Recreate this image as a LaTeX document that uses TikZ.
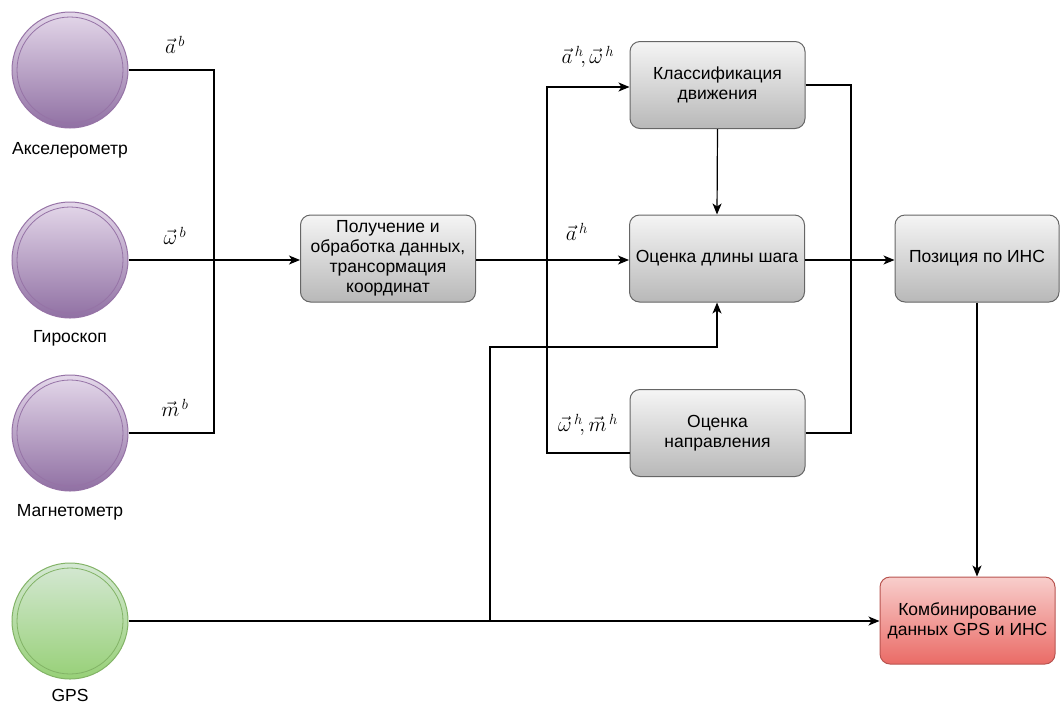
\RequirePackage{fix-cm}
\documentclass[tikz,border=0pt]{standalone}
\usepackage{fontspec}
\setmainfont{Liberation Sans}
\usetikzlibrary{arrows.meta}
\definecolor{grayborder}{HTML}{666666}
\definecolor{graytop}{HTML}{F5F5F5}
\definecolor{graybot}{HTML}{B8B8B8}
\definecolor{purpborder}{HTML}{9673A6}
\definecolor{purptop}{HTML}{E4D8EA}
\definecolor{purpbot}{HTML}{9070A3}
\definecolor{greenborder}{HTML}{82B366}
\definecolor{greentop}{HTML}{D5E8D4}
\definecolor{greenbot}{HTML}{97D077}
\definecolor{redborder}{HTML}{B85450}
\definecolor{redtop}{HTML}{F8CECC}
\definecolor{redbot}{HTML}{EA6B66}
\tikzset{
  box/.style={draw=grayborder, line width=1pt, rounded corners=10pt, top color=graytop, bottom color=graybot,
    minimum width=175pt, minimum height=87pt, inner sep=2pt, align=center, font=\fontsize{17.5}{20}\selectfont},
  redbox/.style={box, draw=redborder, top color=redtop, bottom color=redbot},
  sensor/.style={circle, draw=purpborder, line width=1pt, top color=purptop, bottom color=purpbot, minimum size=116pt, inner sep=0pt},
  gpssensor/.style={sensor, draw=greenborder, top color=greentop, bottom color=greenbot},
  lbl/.style={font=\fontsize{17.5}{20}\selectfont, inner sep=0pt},
  mlbl/.style={font=\fontsize{21}{24}\selectfont, inner sep=0pt},
  conn/.style={line width=1.2pt, black},
  arr/.style={conn, -{Stealth[length=11pt,width=9pt,inset=3pt]}}
}
\begin{document}
\begin{tikzpicture}[x=1pt,y=-1pt]
\useasboundingbox (0,0) rectangle (1060,705);
% sensors
\node[sensor] (acc) at (70,70) {};
\node[sensor] (gyr) at (70,260) {};
\node[sensor] (mag) at (70,433) {};
\node[gpssensor] (gps) at (70,621) {};
\draw[purpborder, line width=0.8pt] (acc.center) circle (53pt);
\draw[purpborder, line width=0.8pt] (gyr.center) circle (53pt);
\draw[purpborder, line width=0.8pt] (mag.center) circle (53pt);
\draw[greenborder, line width=0.8pt] (gps.center) circle (53pt);
\node[lbl] (accl) at (70,150) {Акселерометр};
\node[lbl] (gyrl) at (70,338) {Гироскоп};
\node[lbl] (magl) at (70,512) {Магнетометр};
\node[lbl] (gpsl) at (70,695) {GPS};
% boxes
\node[box] (proc) at (388,258.5) {Получение и\\обработка данных,\\трансормация\\координат};
\node[box] (cls) at (717.5,85) {Классификация\\движения};
\node[box] (step) at (717,258.5) {Оценка длины шага};
\node[box] (dir) at (717.5,433) {Оценка\\направления};
\node[box, minimum width=164pt] (pos) at (977,258.5) {Позиция по ИНС};
\node[redbox] (comb) at (967.5,620.5) {Комбинирование\\данных GPS и ИНС};
% math labels
\node[mlbl] (lab) at (175,45) {$\vec{a}^{\,b}$};
\node[mlbl] (lwb) at (175,236) {$\vec{\omega}^{\,b}$};
\node[mlbl] (lmb) at (175,408) {$\vec{m}^{\,b}$};
\node[mlbl] (lah) at (577,232) {$\vec{a}^{\,h}$};
\node[mlbl] (lawh) at (588,57) {$\vec{a}^{\,h}\!, \vec{\omega}^{\,h}$};
\node[mlbl] (lwmh) at (588,425) {$\vec{\omega}^{\,h}\!, \vec{m}^{\,h}$};
% junctions
\coordinate (j1) at (214,260);
\coordinate (j2) at (547,260);
\coordinate (j3) at (851,260);
\coordinate (j4) at (490,621);
\coordinate (k) at (717,347);
% connectors
\draw[conn] (acc.east) -| (j1);
\draw[conn] (mag.east) -| (j1);
\draw[arr] (gyr.east) -- (proc.west |- gyr.east);
\draw[arr] (proc.east |- j2) -- (step.west |- j2);
\draw[arr] (j2) |- ([yshift=-2pt]cls.west);
\draw[conn] (j2) |- ([yshift=-20pt]dir.west);
\draw[arr] (cls.south) -- (step.north);
\draw[conn] (cls.east) -| (j3);
\draw[conn] (dir.east) -| (j3);
\draw[arr] (step.east |- j3) -- (pos.west |- j3);
\draw[arr] (pos.south) -- (pos.south |- comb.north);
\draw[arr] (gps.east) -- (comb.west |- gps.east);
\draw[arr] (j4) |- (k) -- (step.south);
\end{tikzpicture}
\end{document}
